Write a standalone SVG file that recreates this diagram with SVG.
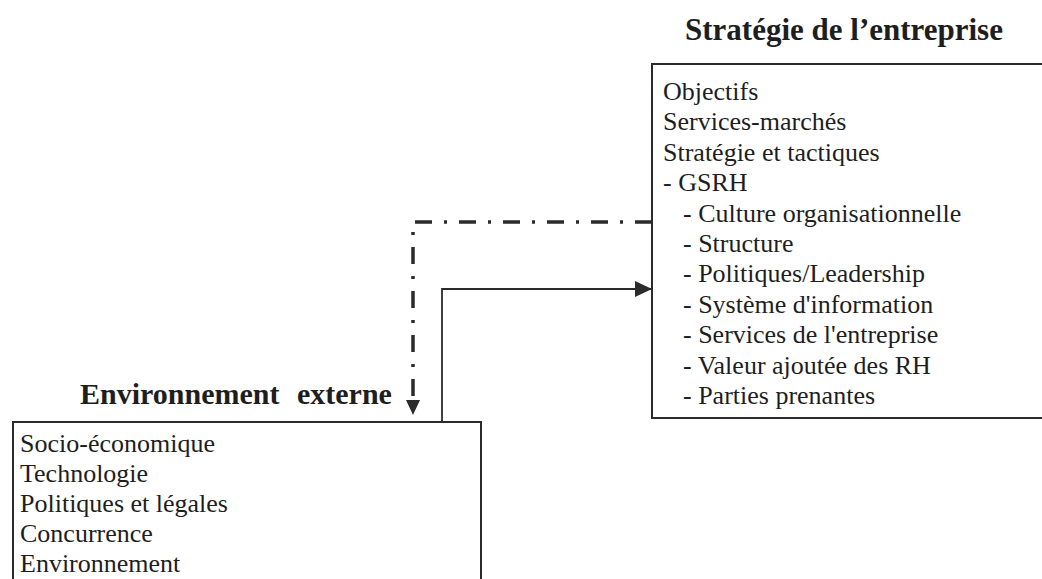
<svg xmlns="http://www.w3.org/2000/svg" width="1042" height="579" viewBox="0 0 1042 579">
  <style>
    .box { fill: #ffffff; stroke: #2b2b2b; stroke-width: 2; }
    .title { font-family: "Liberation Serif", "Times New Roman", serif; font-weight: bold; font-size: 31px; fill: #1e1e1e; }
    .item { font-family: "Liberation Serif", "Times New Roman", serif; font-size: 26px; fill: #1e1e1e; }
    .flow { fill: none; stroke: #2b2b2b; stroke-width: 1.8; }
    .feedback { fill: none; stroke: #2b2b2b; stroke-width: 3.5; stroke-dasharray: 17 12 3 12; }
  </style>
  <defs>
    <marker id="arrowSolid" markerUnits="userSpaceOnUse" markerWidth="18" markerHeight="16" refX="17" refY="8" orient="auto">
      <path d="M0,0 L17,8 L0,16 Z" fill="#2b2b2b"/>
    </marker>
  </defs>

  <rect width="1042" height="579" fill="#ffffff"/>

  <!-- Company strategy -->
  <g id="strategie">
    <text class="title" x="685" y="40">Stratégie de l’entreprise</text>
    <rect class="box" x="652" y="64" width="400" height="354"/>
    <text class="item" x="663" y="100">Objectifs</text>
    <text class="item" x="663" y="130.4">Services-marchés</text>
    <text class="item" x="663" y="160.8">Stratégie et tactiques</text>
    <text class="item" x="663" y="191.2">- GSRH</text>
    <text class="item" x="683" y="221.6">- Culture organisationnelle</text>
    <text class="item" x="683" y="252">- Structure</text>
    <text class="item" x="683" y="282.4">- Politiques/Leadership</text>
    <text class="item" x="683" y="312.8">- Système d'information</text>
    <text class="item" x="683" y="343.2">- Services de l'entreprise</text>
    <text class="item" x="683" y="373.6">- Valeur ajoutée des RH</text>
    <text class="item" x="683" y="404">- Parties prenantes</text>
  </g>

  <!-- External environment -->
  <g id="environnement">
    <text class="title" y="404" style="font-size:30px"><tspan x="80">Environnement</tspan><tspan x="297">externe</tspan></text>
    <rect class="box" x="13" y="422" width="468" height="170"/>
    <text class="item" x="20" y="452">Socio-économique</text>
    <text class="item" x="20" y="482">Technologie</text>
    <text class="item" x="20" y="512">Politiques et légales</text>
    <text class="item" x="20" y="542">Concurrence</text>
    <text class="item" x="20" y="572">Environnement</text>
  </g>

  <!-- Connectors -->
  <g id="connectors">
    <path class="flow" d="M442,422 V289 H652" marker-end="url(#arrowSolid)"/>
    <path class="feedback" d="M652,222 H413 V400"/>
    <path d="M406,400 L420,400 L413,415 Z" fill="#2b2b2b"/>
  </g>
</svg>
